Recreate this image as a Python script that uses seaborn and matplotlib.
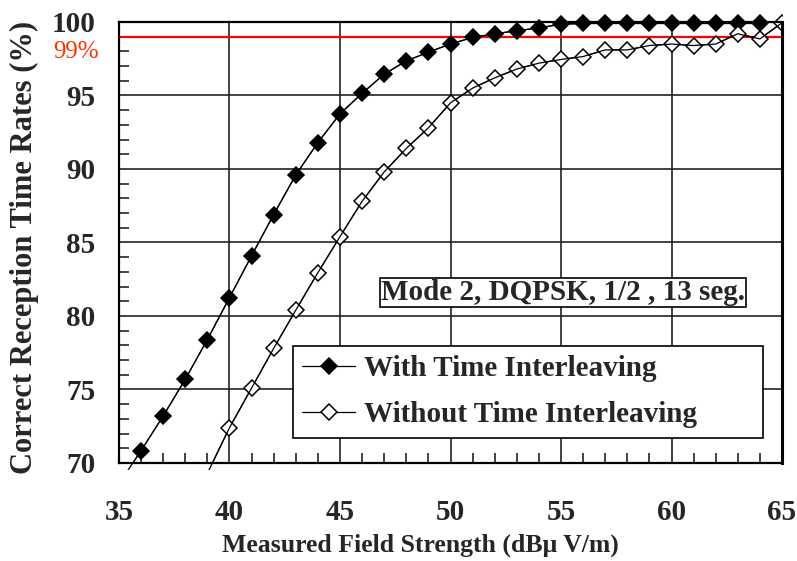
import matplotlib
matplotlib.use("Agg")
import matplotlib.pyplot as plt
import numpy as np
import pandas as pd
import seaborn as sns
from matplotlib.ticker import MultipleLocator
from matplotlib.transforms import Bbox, TransformedBbox

# ---------------------------------------------------------------------------
# Data
# ---------------------------------------------------------------------------
field_with = list(range(35, 65))
rate_with = [68.6, 70.84, 73.2, 75.7, 78.4, 81.25, 84.1, 86.9, 89.6, 91.8,
             93.75, 95.15, 96.45, 97.35, 97.95, 98.5, 98.95, 99.2, 99.4, 99.6,
             99.85, 99.9, 99.9, 99.9, 99.9, 99.9, 99.9, 99.9, 99.9, 99.9]

field_without = list(range(39, 66))
rate_without = [69.3, 72.4, 75.1, 77.8, 80.4, 82.95, 85.4, 87.8, 89.8, 91.4,
                92.8, 94.5, 95.5, 96.2, 96.8, 97.2, 97.45, 97.65, 98.1, 98.1,
                98.4, 98.5, 98.4, 98.5, 99.2, 98.85, 99.95]

series_labels = ["With Time Interleaving", "Without Time Interleaving"]
target_rate = 99
x_ticks = [35, 40, 45, 50, 55, 60, 65]
y_ticks = [70, 75, 80, 85, 90, 95, 100]

df_with = pd.DataFrame({"field": field_with, "rate": rate_with})
df_without = pd.DataFrame({"field": field_without, "rate": rate_without})

# ---------------------------------------------------------------------------
# Style
# ---------------------------------------------------------------------------
sns.set_theme(style="white")
plt.rcParams["font.family"] = ["Liberation Serif", "DejaVu Serif"]
plt.rcParams["font.weight"] = "bold"

fig = plt.figure(figsize=(7.97, 5.61), dpi=100)
ax = fig.add_axes([0.1493, 0.1747, 0.9812 - 0.1493, 0.9608 - 0.1747])

# ── lines + markers; clip box lets the top markers poke above the frame ──
common = dict(color="black", linewidth=0.9, markersize=7.8,
              markeredgewidth=1.1, markeredgecolor="black")
sns.lineplot(data=df_with, x="field", y="rate", ax=ax, marker="D",
             markerfacecolor="black", label=series_labels[0], **common)
sns.lineplot(data=df_without, x="field", y="rate", ax=ax, marker="D",
             markerfacecolor="white", label=series_labels[1], **common)
for ln in ax.lines:
    ln.set_clip_path(None)
    ln.set_clip_box(TransformedBbox(Bbox([[0, 0], [1, 1.06]]), ax.transAxes))

# ── bare line segments that run a little below the frame ──
n_marked = len(ax.lines)
sns.lineplot(data=df_with, x="field", y="rate", ax=ax, color="black", linewidth=0.9)
sns.lineplot(data=df_without, x="field", y="rate", ax=ax, color="black", linewidth=0.9)
for ln in ax.lines[n_marked:]:
    ln.set_clip_path(None)
    ln.set_clip_box(TransformedBbox(Bbox([[0, -0.016], [1, 1]]), ax.transAxes))

ax.axhline(target_rate, color="#ff0000", linewidth=1.6, zorder=1)

# ---------------------------------------------------------------------------
# Axes
# ---------------------------------------------------------------------------
ax.set_xlim(35, 65)
ax.set_ylim(70, 100)
ax.set_xticks(x_ticks)
ax.set_yticks(y_ticks)
ax.xaxis.set_minor_locator(MultipleLocator(1))
ax.yaxis.set_minor_locator(MultipleLocator(1))
ax.set_xticklabels([str(v) for v in x_ticks], fontsize=21, fontweight="bold")
ax.set_yticklabels([str(v) for v in y_ticks], fontsize=21, fontweight="bold")
ax.tick_params(axis="x", which="major", length=0, pad=26)
ax.tick_params(axis="y", which="major", length=0, pad=17)
ax.tick_params(axis="x", which="minor", direction="in", length=7, width=1.2,
               bottom=True, top=False)
ax.tick_params(axis="y", which="minor", direction="in", length=7, width=1.2,
               left=True, right=False)

ax.grid(True, which="major", color="#222222", linewidth=1.2)
ax.set_axisbelow(True)
for side, sp in ax.spines.items():
    sp.set_visible(True)
    sp.set_color("black")
    sp.set_linewidth(1.6)
ax.spines["right"].set_linewidth(2.2)

ax.set_xlabel("Measured Field Strength (dBμ V/m)", fontsize=18.5, fontweight="bold")
ax.set_ylabel("Correct Reception Time Rates (%)", fontsize=22, fontweight="bold")
ax.xaxis.set_label_coords(0.454, -0.186)
ax.yaxis.set_label_coords(-0.142, 0.489)
ax.xaxis.label.set_verticalalignment("center")
ax.yaxis.label.set_verticalalignment("center")

ax.text(-0.030, 97.96, "99%", color="#ff3300", fontsize=18, fontweight="normal",
        ha="right", va="center", transform=ax.get_yaxis_transform())

ax.text(55.09, 81.6, "Mode 2, DQPSK, 1/2 , 13 seg.", fontsize=21,
        fontweight="bold", ha="center", va="center",
        bbox=dict(boxstyle="square,pad=0.05", facecolor="white",
                  edgecolor="black", linewidth=1.2))

leg = ax.legend(loc="lower left", bbox_to_anchor=(0.262, 0.0567, 0.709, 0.2),
                mode="expand", borderaxespad=0, fancybox=False, framealpha=1,
                edgecolor="black", handlelength=1.8, handletextpad=0.3,
                labelspacing=0.65, borderpad=0.33,
                prop={"size": 21, "weight": "bold"})
leg.get_frame().set_linewidth(1.2)

fig.savefig("out.png", dpi=100)
